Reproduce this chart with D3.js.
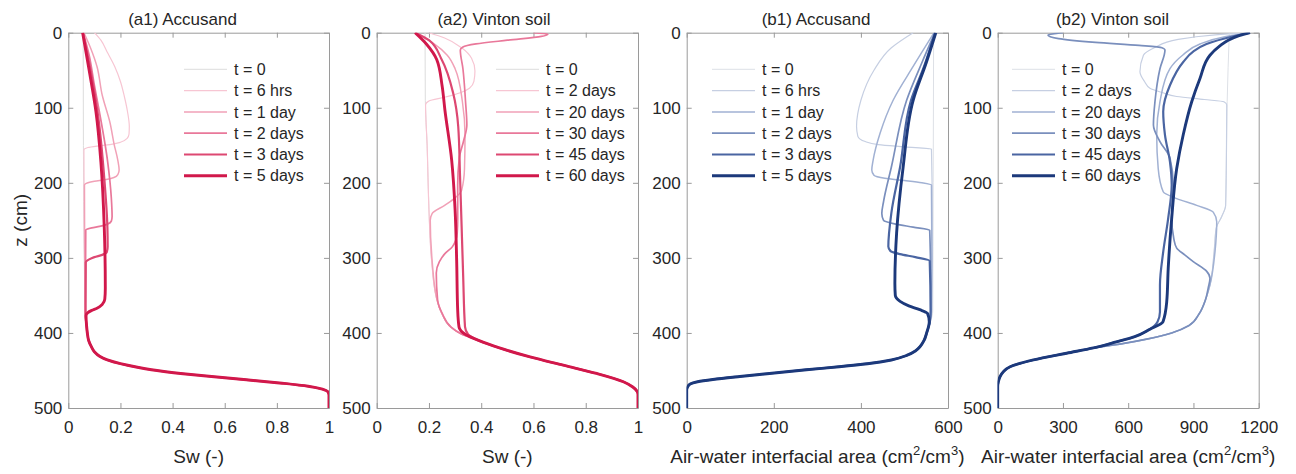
<!DOCTYPE html>
<html>
<head>
<meta charset="utf-8">
<script src="https://cdn.jsdelivr.net/npm/d3@7"></script>
<style>
  body { margin: 0; background: #fff; }
  svg text { font-family: "Liberation Sans", Arial, sans-serif; fill: #262626; }
</style>
</head>
<body>
<div id="container"></div>
<script>
// ticks and legend labels
var zTicks = [0, 100, 200, 300, 400, 500];
var swTicks = [0, 0.2, 0.4, 0.6, 0.8, 1];
var areaTicksAccusand = [0, 200, 400, 600];
var areaTicksVinton = [0, 300, 600, 900, 1200];
var labelsAccusand = ["t = 0", "t = 6 hrs", "t = 1 day", "t = 2 days", "t = 3 days", "t = 5 days"];
var labelsVinton = ["t = 0", "t = 2 days", "t = 20 days", "t = 30 days", "t = 45 days", "t = 60 days"];

// profiles as [z (cm), value]
// (a1) Accusand, Sw
var a1Fringe = [[390,0.07],[400,0.073],[410,0.078],[418,0.088],[425,0.1],[431,0.12],[436,0.15],[441,0.2],[446,0.27],[451,0.36],[455,0.46],[459,0.58],[463,0.7],[467,0.82],[471,0.92],[475,0.975],[479,0.997],[483,1.0],[500,1.0]];
var a1_t0 = [[0,0.057],[150,0.058],[300,0.061],[375,0.066]];
var a1_6h = [[0,0.1],[10,0.125],[25,0.148],[45,0.178],[65,0.2],[85,0.215],[105,0.227],[125,0.234],[135,0.233],[141,0.225],[146,0.2],[149,0.16],[151,0.11],[153,0.075],[156,0.06],[250,0.061],[375,0.066]];
var a1_1d = [[0,0.06],[20,0.085],[45,0.11],[83,0.13],[120,0.16],[149,0.176],[170,0.19],[183,0.195],[189,0.19],[193,0.175],[196,0.14],[198,0.1],[200,0.075],[203,0.062],[300,0.063],[375,0.066]];
var a1_2d = [[0,0.057],[30,0.08],[70,0.1],[105,0.119],[172,0.151],[220,0.165],[245,0.168],[251,0.165],[255,0.15],[258,0.12],[260,0.09],[263,0.067],[375,0.066]];
var a1_3d = [[0,0.056],[40,0.08],[105,0.112],[194,0.138],[260,0.15],[285,0.151],[292,0.148],[296,0.13],[299,0.1],[302,0.08],[306,0.067],[375,0.066]];
var a1_5d = [[0,0.055],[50,0.08],[105,0.106],[172,0.125],[260,0.138],[340,0.142],[355,0.14],[362,0.13],[367,0.11],[370,0.09],[373,0.075],[377,0.068]];

// (a2) Vinton soil, Sw
var a2Fringe = [[420,0.47],[432,0.587],[443,0.714],[454,0.842],[465,0.944],[472,0.98],[478,0.997],[482,1.0],[500,1.0]];
var a2Base = [[150,0.193],[236,0.2],[303,0.21],[356,0.23],[375,0.25],[392,0.282],[401,0.322],[410,0.39]];
var a2_t0 = [[0,0.185],[90,0.186]];
var a2_2d = [[0,0.2],[7,0.26],[20,0.325],[34,0.363],[51,0.376],[65,0.372],[74,0.355],[80,0.32],[86,0.26],[91,0.2],[96,0.187]];
var a2_20d = [[0,0.145],[15,0.22],[30,0.27],[48,0.3],[92,0.328],[136,0.338],[181,0.336],[210,0.325],[220,0.3],[230,0.26],[241,0.212],[250,0.205],[303,0.212],[356,0.231],[375,0.251],[392,0.283],[401,0.322],[410,0.39]];
var a2_30d = [[0,0.6],[2,0.655],[5,0.63],[10,0.5],[15,0.38],[19,0.33],[23,0.32],[48,0.33],[92,0.34],[123,0.345],[145,0.332],[167,0.316],[203,0.31],[247,0.31],[267,0.308],[285,0.29],[294,0.262],[305,0.24],[320,0.228],[356,0.233],[375,0.252],[392,0.284],[401,0.322],[410,0.39]];
var a2_45d = [[0,0.147],[10,0.2],[36,0.249],[81,0.293],[125,0.312],[192,0.319],[258,0.325],[325,0.331],[392,0.338],[402,0.35],[410,0.39]];
var a2_60d = [[0,0.147],[15,0.19],[36,0.23],[70,0.25],[103,0.261],[170,0.287],[236,0.3],[303,0.306],[370,0.31],[392,0.315],[402,0.34],[410,0.39]];

// (b1) Accusand, air-water interfacial area
var b1Fringe = [[400,551],[410,545],[418,536],[424,525],[430,505],[436,470],[441,415],[445,350],[449,275],[454,190],[458,122],[462,60],[465,25],[468,8],[472,2],[476,0],[500,0]];
var b1_t0 = [[0,567],[200,566],[370,565],[385,560]];
var b1_6h = [[0,520],[20,470],[50,430],[90,400],[125,390],[138,393],[145,410],[149,440],[152,500],[155,562],[250,564],[370,563],[385,559]];
var b1_1d = [[0,568],[45,520],[90,474],[134,444],[170,428],[183,425],[190,430],[194,455],[197,500],[200,540],[203,562],[300,563],[370,562],[385,559]];
var b1_2d = [[0,570],[40,540],[90,505],[179,470],[225,452],[241,448],[250,452],[255,480],[259,520],[263,558],[370,561],[385,559]];
var b1_3d = [[0,570],[45,545],[90,515],[179,490],[240,470],[285,463],[291,468],[295,490],[299,525],[304,558],[370,560],[385,558]];
var b1_5d = [[0,572],[40,550],[90,520],[179,497],[267,482],[334,478],[350,479],[358,490],[364,510],[369,535],[374,553],[385,557]];

// (b2) Vinton soil, air-water interfacial area
var b2Fringe = [[420,440],[427,317],[436,164],[445,57],[452,25],[458,11],[465,3],[472,0],[500,0]];
var b2ThinTail = [[356,955],[375,925],[390,880],[400,800],[408,690],[414,580]];
var b2ThickTail = [[395,700],[405,630],[412,545]];
var b2_t0 = [[0,1065],[92,1055],[150,1052],[230,1048],[245,1030],[260,1005],[292,995],[336,976]];
var b2_2d = [[0,1160],[3,1000],[9,830],[20,720],[30,670],[52,654],[65,675],[74,700],[80,760],[85,823],[89,950],[92,1040],[96,1053],[150,1052],[230,1048],[245,1030],[260,1005],[292,995],[336,976]];
var b2_20d = [[0,1160],[5,1050],[15,930],[30,850],[48,792],[92,746],[136,731],[181,738],[212,761],[221,823],[230,915],[239,991],[252,1007],[292,999],[336,976]];
var b2_30d = [[0,300],[3,231],[8,280],[13,450],[17,650],[20,755],[23,769],[48,746],[92,723],[123,716],[145,746],[167,792],[203,807],[247,800],[275,810],[287,823],[296,860],[305,899],[318,961],[327,976],[340,968]];
var b2_45d = [[0,1160],[5,1080],[15,960],[25,900],[39,853],[70,792],[105,761],[136,769],[172,792],[203,800],[247,784],[292,761],[336,746],[372,746],[385,735]];
var b2_60d = [[0,1160],[4,1110],[10,1060],[18,1020],[30,976],[61,930],[92,892],[136,853],[181,823],[247,800],[314,784],[359,777],[385,760]];

var reds = ["#dcdcdc", "#f7c6d3", "#f1a1b7", "#e9789a", "#dd4872", "#d1184b"];
var blues = ["#dde0e6", "#c6cfe2", "#a1b1d3", "#7a8fbd", "#4a65a2", "#1c397b"];
var widths = [1, 1.2, 1.5, 1.7, 2.2, 2.9];

var W = 1296, H = 474;
var plotTop = 32.7, plotBottom = 408;

var svg = d3.select("div#container")
  .append("svg")
  .attr("width", W)
  .attr("height", H);

var panels = [
  { left: 68.3, right: 329, domain: [0, 1], ticks: swTicks, fmt: d3.format("~g"),
    title: "(a1) Accusand", titleX: 182.5, xlab: "Sw (-)", legendX: 184,
    labels: labelsAccusand, colors: reds,
    series: [a1_t0.concat(a1Fringe), a1_6h.concat(a1Fringe), a1_1d.concat(a1Fringe),
             a1_2d.concat(a1Fringe), a1_3d.concat(a1Fringe), a1_5d.concat(a1Fringe)] },
  { left: 376.7, right: 638, domain: [0, 1], ticks: swTicks, fmt: d3.format("~g"),
    title: "(a2) Vinton soil", titleX: 494, xlab: "Sw (-)", legendX: 496,
    labels: labelsVinton, colors: reds,
    series: [a2_t0.concat(a2Base, a2Fringe), a2_2d.concat(a2Base, a2Fringe), a2_20d.concat(a2Fringe),
             a2_30d.concat(a2Fringe), a2_45d.concat(a2Fringe), a2_60d.concat(a2Fringe)] },
  { left: 686.7, right: 948, domain: [0, 600], ticks: areaTicksAccusand, fmt: d3.format("d"),
    title: "(b1) Accusand", titleX: 816, xlab: "area", legendX: 712,
    labels: labelsAccusand, colors: blues,
    series: [b1_t0.concat(b1Fringe), b1_6h.concat(b1Fringe), b1_1d.concat(b1Fringe),
             b1_2d.concat(b1Fringe), b1_3d.concat(b1Fringe), b1_5d.concat(b1Fringe)] },
  { left: 997.7, right: 1258.7, domain: [0, 1200], ticks: areaTicksVinton, fmt: d3.format("d"),
    title: "(b2) Vinton soil", titleX: 1112.5, xlab: "area", legendX: 1012,
    labels: labelsVinton, colors: blues,
    series: [b2_t0.concat(b2ThinTail, b2Fringe), b2_2d.concat(b2ThinTail, b2Fringe), b2_20d.concat(b2ThinTail, b2Fringe),
             b2_30d.concat(b2ThinTail, b2Fringe), b2_45d.concat(b2ThickTail, b2Fringe), b2_60d.concat(b2ThickTail, b2Fringe)] }
];

var y = d3.scaleLinear().domain([0, 500]).range([plotTop, plotBottom]);

panels.forEach(function(p, pi) {
  var x = d3.scaleLinear().domain(p.domain).range([p.left, p.right]);
  var g = svg.append("g");

  g.append("clipPath").attr("id", "clip" + pi)
    .append("rect")
    .attr("x", p.left).attr("y", plotTop)
    .attr("width", p.right - p.left).attr("height", plotBottom - plotTop);

  // axes, ticks pointing inward like matlab
  var axB = g.append("g").attr("transform", "translate(0," + plotBottom + ")")
    .call(d3.axisBottom(x).tickValues(p.ticks).tickFormat(p.fmt).tickSize(-5).tickSizeOuter(0).tickPadding(13));
  var axT = g.append("g").attr("transform", "translate(0," + plotTop + ")")
    .call(d3.axisTop(x).tickValues(p.ticks).tickFormat("").tickSize(-5).tickSizeOuter(0));
  var axL = g.append("g").attr("transform", "translate(" + p.left + ",0)")
    .call(d3.axisLeft(y).tickValues(zTicks).tickSize(-5).tickSizeOuter(0).tickPadding(6));
  var axR = g.append("g").attr("transform", "translate(" + p.right + ",0)")
    .call(d3.axisRight(y).tickValues(zTicks).tickFormat("").tickSize(-5).tickSizeOuter(0));

  [axB, axT, axL, axR].forEach(function(a) {
    a.selectAll("path, line").attr("stroke", "#9a9a9a");
    a.selectAll("text").style("font-size", "17px").attr("fill", "#262626");
  });

  // profiles
  var line = d3.line()
    .x(function(d) { return x(d[1]); })
    .y(function(d) { return y(d[0]); })
    .curve(d3.curveMonotoneY);

  g.append("g").attr("clip-path", "url(#clip" + pi + ")")
    .selectAll("path")
    .data(p.series)
    .enter().append("path")
    .attr("d", line)
    .attr("fill", "none")
    .attr("stroke", function(d, i) { return p.colors[i]; })
    .attr("stroke-width", function(d, i) { return widths[i]; })
    .attr("stroke-linejoin", "round");

  // legend
  var leg = g.append("g");
  p.labels.forEach(function(lab, i) {
    var ly = 69.3 + i * 21.3;
    leg.append("line")
      .attr("x1", p.legendX).attr("x2", p.legendX + 43)
      .attr("y1", ly).attr("y2", ly)
      .attr("stroke", p.colors[i])
      .attr("stroke-width", widths[i]);
    leg.append("text")
      .attr("x", p.legendX + 50).attr("y", ly)
      .attr("dy", "0.35em")
      .style("font-size", "16px")
      .text(lab);
  });

  // title
  g.append("text")
    .attr("x", p.titleX).attr("y", 25)
    .attr("text-anchor", "middle")
    .style("font-size", "17px")
    .text(p.title);

  // x label
  var xl = g.append("text")
    .attr("x", (p.left + p.right) / 2).attr("y", 463)
    .attr("text-anchor", "middle")
    .style("font-size", "19px");
  if (p.xlab === "area") {
    xl.append("tspan").text("Air-water interfacial area (cm");
    xl.append("tspan").attr("dy", -8).style("font-size", "13px").text("2");
    xl.append("tspan").attr("dy", 8).text("/cm");
    xl.append("tspan").attr("dy", -8).style("font-size", "13px").text("3");
    xl.append("tspan").attr("dy", 8).text(")");
  } else {
    xl.text(p.xlab);
  }
});

// y label
svg.append("text")
  .attr("transform", "translate(27," + ((plotTop + plotBottom) / 2) + ") rotate(-90)")
  .attr("text-anchor", "middle")
  .style("font-size", "19px")
  .text("z (cm)");
</script>
</body>
</html>
